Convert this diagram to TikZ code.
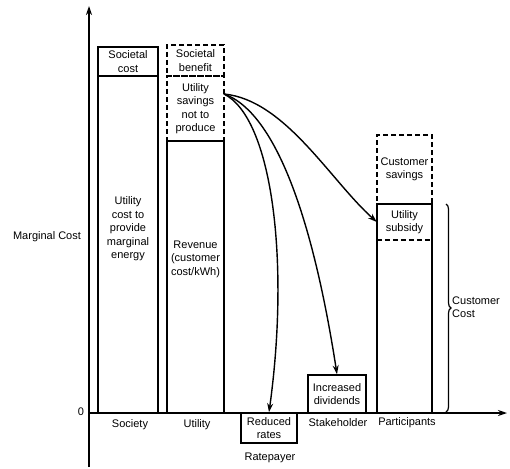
\documentclass[tikz,border=0pt]{standalone}
\usepackage{fontspec}
\setmainfont{Liberation Sans}
\usetikzlibrary{arrows.meta,positioning,decorations.pathreplacing}
\tikzset{
  bar/.style={draw,line width=1.5pt,inner sep=0pt,align=center},
  dbar/.style={bar,dash pattern=on 5pt off 3pt},
  lbl/.style={inner sep=1pt,align=center},
  ar/.style={-{Stealth[length=9pt,width=6pt]},line width=1.4pt},
}
\begin{document}
\begin{tikzpicture}[x=1pt,y=-1pt,font=\fontsize{11}{13.5}\selectfont]
  \useasboundingbox (0,0) rectangle (510,468);
  % axes
  \coordinate (o) at (89,413);
  \coordinate (ytop) at (89,6);
  \coordinate (ybot) at (89,467);
  \coordinate (xend) at (507,413);
  \draw[ar] (ybot) -- (ytop);
  \draw[ar] (o) -- (xend);
  \node[lbl] (zero) at (81,412) {0};
  \node[lbl] (mc) at (47,237) {Marginal Cost};
  % society
  \node[bar,minimum width=60pt,minimum height=29pt] (soccost) at (128,61.5) {Societal\\cost};
  \node[bar,minimum width=60pt,minimum height=337pt] (socbar) at (128,244.5) {};
  \node[lbl] (soctxt) at (128,229) {Utility\\cost to\\provide\\marginal\\energy};
  % utility
  \node[bar,minimum width=57pt,minimum height=272pt] (utrev) at (195.5,277) {};
  \node[lbl] (revtxt) at (195.5,259) {Revenue\\(customer\\cost/kWh)};
  \node[dbar,minimum width=57pt,minimum height=31pt] (utben) at (195.5,60.5) {Societal\\benefit};
  \node[dbar,minimum width=57pt,minimum height=65pt] (utsav) at (195.5,108.5) {Utility\\savings\\not to\\produce};
  % participants
  \node[bar,minimum width=55pt,minimum height=209pt] (pcbar) at (404.5,308.5) {};
  \node[dbar,minimum width=55pt,minimum height=69pt] (pcsav) at (404.5,169.5) {Customer\\savings};
  \node[lbl,minimum width=55pt,minimum height=36pt,inner sep=0pt] (pcsub) at (404.5,222) {Utility\\subsidy};
  \draw[line width=1.5pt,dash pattern=on 5pt off 3pt] (pcsub.south west) -- (pcsub.south east);
  % ratepayer and stakeholder
  \node[bar,minimum width=56pt,minimum height=30pt] (rr) at (269,428) {Reduced\\rates};
  \node[bar,minimum width=58pt,minimum height=38pt] (dv) at (337,394) {Increased\\dividends};
  % axis labels
  \node[lbl] (lsoc) at (130,425) {Society};
  \node[lbl] (lut) at (197,425) {Utility};
  \node[lbl] (lrp) at (270,458) {Ratepayer};
  \node[lbl] (lsh) at (338,423) {Stakeholder};
  \node[lbl] (lpc) at (407,423) {Participants};
  % flows of savings
  \coordinate (src) at (224,94);
  \draw[ar] (src) .. controls (272,118) and (290,260) .. (rr.north);
  \draw[ar] (src) .. controls (270,110) and (310,200) .. (dv.north);
  \draw[ar] (src) .. controls (285,100) and (330,180) .. (pcsub.west);
  % customer cost
  \coordinate (bt) at (446,204);
  \coordinate (bb) at (446,412);
  \draw[decorate,decoration={brace,amplitude=5pt},line width=1.2pt] (bt) -- (bb);
  \node[lbl,anchor=west,align=left] (cc) at (451,307) {Customer\\Cost};
\end{tikzpicture}
\end{document}
